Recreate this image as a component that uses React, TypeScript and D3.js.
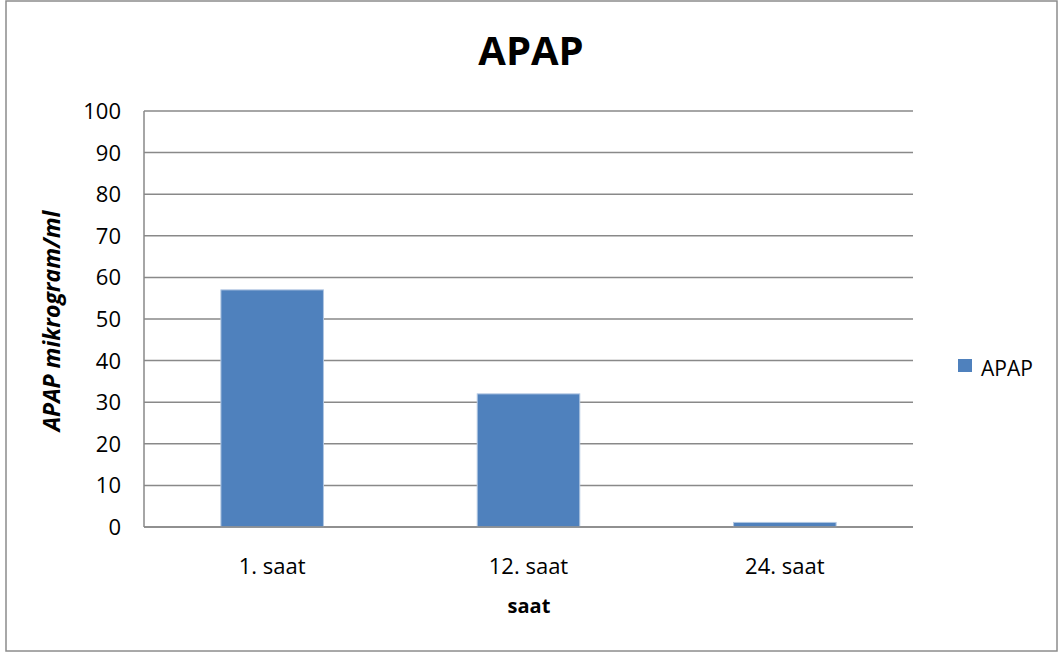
import React from "react";
import * as d3 from "d3";

// Chart data
const categories: string[] = ["1. saat", "12. saat", "24. saat"];
const apapValues: number[] = [57, 32, 1.1];
const yTicks: number[] = [0, 10, 20, 30, 40, 50, 60, 70, 80, 90, 100];
const seriesName = "APAP";

const W = 1059;
const H = 652;
const FONT = "'Open Sans', 'Noto Sans', sans-serif";

export default function App() {
  const plot = { left: 144, right: 913, top: 111, bottom: 527 };

  const x = d3
    .scaleBand<string>()
    .domain(categories)
    .range([plot.left, plot.right])
    .paddingInner(0.6)
    .paddingOuter(0.3);

  const y = d3.scaleLinear().domain([0, 100]).range([plot.bottom, plot.top]);

  return (
    <svg
      width={W}
      height={H}
      style={{ position: "absolute", left: 0, top: 0, display: "block", background: "#fff" }}
      fontFamily={FONT}
    >
      {/* outer frame */}
      <rect x={6} y={1} width={1051} height={650} fill="#fff" stroke="#8c8c8c" strokeWidth={1.5} />

      {/* title */}
      <text x={531} y={65} textAnchor="middle" fontSize={40} fontWeight={700} fill="#000">
        APAP
      </text>

      {/* horizontal grid lines */}
      {yTicks.map((t) => (
        <line
          key={t}
          x1={plot.left}
          x2={plot.right}
          y1={y(t)}
          y2={y(t)}
          stroke="#898989"
          strokeWidth={1.5}
        />
      ))}

      {/* left axis line */}
      <line x1={plot.left} x2={plot.left} y1={plot.top} y2={plot.bottom} stroke="#898989" strokeWidth={1.5} />

      {/* y tick labels */}
      {yTicks.map((t) => (
        <text
          key={"l" + t}
          x={121}
          y={y(t)}
          dy="0.36em"
          textAnchor="end"
          fontSize={22}
          fill="#000"
        >
          {t}
        </text>
      ))}

      {/* bars */}
      {categories.map((c, i) => (
        <rect
          key={c}
          x={x(c)!}
          y={y(apapValues[i])}
          width={x.bandwidth()}
          height={y(0) - y(apapValues[i])}
          fill="#4f81bd"
          stroke="#b0c6e2"
          strokeWidth={1}
        />
      ))}

      {/* baseline over the bars */}
      <line x1={plot.left} x2={plot.right} y1={y(0)} y2={y(0)} stroke="#898989" strokeWidth={1.5} />

      {/* x category labels */}
      {categories.map((c) => (
        <text
          key={"x" + c}
          x={x(c)! + x.bandwidth() / 2}
          y={574}
          textAnchor="middle"
          fontSize={22}
          fill="#000"
        >
          {c}
        </text>
      ))}

      {/* axis titles */}
      <text x={529} y={613} textAnchor="middle" fontSize={20} fontWeight={700} fill="#000">
        saat
      </text>
      <text
        transform={`translate(60, 321) rotate(-90)`}
        textAnchor="middle"
        fontSize={23}
        fontWeight={700}
        fontStyle="italic"
        fill="#000"
      >
        APAP mikrogram/ml
      </text>

      {/* legend */}
      <rect x={958} y={359} width={14} height={13} fill="#4f81bd" />
      <text x={981} y={376} fontSize={21} fill="#000">
        {seriesName}
      </text>
    </svg>
  );
}
